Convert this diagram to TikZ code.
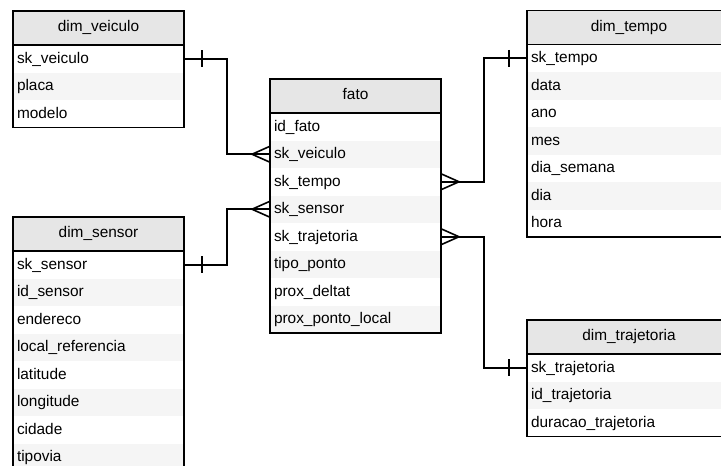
\documentclass[tikz,border=0pt]{standalone}
\usepackage{fontspec}
\setmainfont{Liberation Sans}
\usepackage{tikz}
\usetikzlibrary{positioning}
\definecolor{cabec}{HTML}{E6E6E6}
\definecolor{listra}{HTML}{F5F5F5}
\tikzset{
tab_base/.style = {rectangle, inner sep=4pt, outer sep=0pt, minimum height=27.5pt,
font=\fontsize{15.4}{18}\selectfont, text width=163pt, text height=12.4pt, text depth=3.2pt},% base das tabelas
tab_h/.style = {tab_base, align=center, fill=cabec, minimum height=34pt, text height=11.6pt, text depth=4.2pt},% cabecalho
tab_r/.style = {tab_base, align=left, fill=white},% linha branca
tab_g/.style = {tab_base, align=left, fill=listra},% linha cinza
larga/.style = {text width=196pt},% tabelas da direita
tab_line/.style = {draw=black, line width=1.4pt},% contorno
rel/.style = {draw=black, line width=1.6pt}% relacionamento
}
\begin{document}
\begin{tikzpicture}[x=1pt, y=1pt]
	\useasboundingbox (0,0) rectangle (721,-466);
	\clip (0,0) rectangle (721,-466);
	% dim_veiculo
	\node [tab_h] (veic) at (98.5,-28) {dim\_veiculo};
	\node [tab_r, below=0pt of veic] (veic_sk) {sk\_veiculo};
	\node [tab_g, below=0pt of veic_sk] (veic_placa) {placa};
	\node [tab_r, below=0pt of veic_placa] (veic_mod) {modelo};
	\draw [tab_line] (veic.north west) rectangle (veic_mod.south east);
	\draw [tab_line] (veic.south west) -- (veic.south east);
	% dim_sensor
	\node [tab_h] (sens) at (98.5,-234) {dim\_sensor};
	\node [tab_r, below=0pt of sens] (sens_sk) {sk\_sensor};
	\node [tab_g, below=0pt of sens_sk] (sens_id) {id\_sensor};
	\node [tab_r, below=0pt of sens_id] (sens_end) {endereco};
	\node [tab_g, below=0pt of sens_end] (sens_ref) {local\_referencia};
	\node [tab_r, below=0pt of sens_ref] (sens_lat) {latitude};
	\node [tab_g, below=0pt of sens_lat] (sens_lon) {longitude};
	\node [tab_r, below=0pt of sens_lon] (sens_cid) {cidade};
	\node [tab_g, below=0pt of sens_cid] (sens_via) {tipovia};
	\draw [tab_line] (sens.north west) rectangle (sens_via.south east);
	\draw [tab_line] (sens.south west) -- (sens.south east);
	% fato
	\node [tab_h] (fato) at (355.5,-96) {fato};
	\node [tab_r, below=0pt of fato] (fato_id) {id\_fato};
	\node [tab_g, below=0pt of fato_id] (fato_skv) {sk\_veiculo};
	\node [tab_r, below=0pt of fato_skv] (fato_skt) {sk\_tempo};
	\node [tab_g, below=0pt of fato_skt] (fato_sks) {sk\_sensor};
	\node [tab_r, below=0pt of fato_sks] (fato_skj) {sk\_trajetoria};
	\node [tab_g, below=0pt of fato_skj] (fato_tipo) {tipo\_ponto};
	\node [tab_r, below=0pt of fato_tipo] (fato_delta) {prox\_deltat};
	\node [tab_g, below=0pt of fato_delta] (fato_local) {prox\_ponto\_local};
	\draw [tab_line] (fato.north west) rectangle (fato_local.south east);
	\draw [tab_line] (fato.south west) -- (fato.south east);
	% dim_tempo
	\node [tab_h, larga] (tempo) at (629,-27.5) {dim\_tempo};
	\node [tab_r, larga, below=0pt of tempo] (tempo_sk) {sk\_tempo};
	\node [tab_g, larga, below=0pt of tempo_sk] (tempo_data) {data};
	\node [tab_r, larga, below=0pt of tempo_data] (tempo_ano) {ano};
	\node [tab_g, larga, below=0pt of tempo_ano] (tempo_mes) {mes};
	\node [tab_r, larga, below=0pt of tempo_mes] (tempo_sem) {dia\_semana};
	\node [tab_g, larga, below=0pt of tempo_sem] (tempo_dia) {dia};
	\node [tab_r, larga, below=0pt of tempo_dia] (tempo_hora) {hora};
	\draw [tab_line] (tempo.north west) rectangle (tempo_hora.south east);
	\draw [tab_line] (tempo.south west) -- (tempo.south east);
	% dim_trajetoria
	\node [tab_h, larga] (traj) at (629,-337) {dim\_trajetoria};
	\node [tab_r, larga, below=0pt of traj] (traj_sk) {sk\_trajetoria};
	\node [tab_g, larga, below=0pt of traj_sk] (traj_id) {id\_trajetoria};
	\node [tab_r, larga, below=0pt of traj_id] (traj_dur) {duracao\_trajetoria};
	\draw [tab_line] (traj.north west) rectangle (traj_dur.south east);
	\draw [tab_line] (traj.south west) -- (traj.south east);
	% relacionamentos
	\draw [rel] (veic_sk.east) -- ++(43,0) |- (fato_skv.west);
	\draw [rel] ([xshift=18pt,yshift=8.5pt]veic_sk.east) -- ++(0,-17);
	\draw [rel] ([yshift=8pt]fato_skv.west) -- ([xshift=-18pt]fato_skv.west) -- ([yshift=-8pt]fato_skv.west);
	\draw [rel] (sens_sk.east) -- ++(43,0) |- (fato_sks.west);
	\draw [rel] ([xshift=18pt,yshift=8.5pt]sens_sk.east) -- ++(0,-17);
	\draw [rel] ([yshift=8pt]fato_sks.west) -- ([xshift=-18pt]fato_sks.west) -- ([yshift=-8pt]fato_sks.west);
	\draw [rel] (fato_skt.east) -- ++(43,0) |- (tempo_sk.west);
	\draw [rel] ([xshift=-18pt,yshift=8.5pt]tempo_sk.west) -- ++(0,-17);
	\draw [rel] ([yshift=8pt]fato_skt.east) -- ([xshift=18pt]fato_skt.east) -- ([yshift=-8pt]fato_skt.east);
	\draw [rel] (fato_skj.east) -- ++(43,0) |- (traj_sk.west);
	\draw [rel] ([xshift=-18pt,yshift=8.5pt]traj_sk.west) -- ++(0,-17);
	\draw [rel] ([yshift=8pt]fato_skj.east) -- ([xshift=18pt]fato_skj.east) -- ([yshift=-8pt]fato_skj.east);
\end{tikzpicture}
\end{document}
